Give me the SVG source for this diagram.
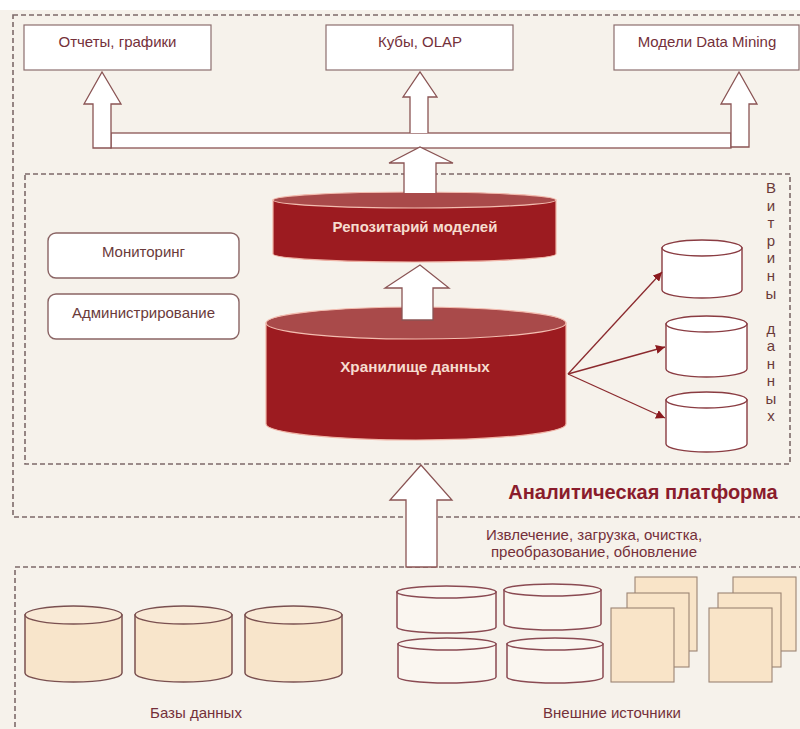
<svg xmlns="http://www.w3.org/2000/svg" width="800" height="729" viewBox="0 0 800 729">
  <defs>
    <style>
      .frame { fill: none; stroke: #7d6a6a; stroke-width: 1.6; stroke-dasharray: 5 3; }
      .box { fill: #ffffff; stroke: #8c6e6e; stroke-width: 1.2; }
      .rbox { fill: #ffffff; stroke: #8a6464; stroke-width: 1.4; }
      .lbl { font-family: "Liberation Sans", Arial, sans-serif; font-size: 15px; fill: #74303a; text-anchor: middle; }
      .side { font-family: "Liberation Sans", Arial, sans-serif; font-size: 15px; fill: #6a3a3a; text-anchor: middle; }
      .dark { font-family: "Liberation Sans", Arial, sans-serif; font-weight: bold; fill: #f6dccf; text-anchor: middle; }
      .blk { fill: #ffffff; stroke: #8a5454; stroke-width: 1.3; }
      .redbody { fill: #9c1b20; stroke: #f0b4a6; stroke-width: 1.2; }
      .redtop { fill: #a94a4a; stroke: #f3bdb0; stroke-width: 1.2; }
      .mart { fill: #ffffff; stroke: #8a3c42; stroke-width: 1.4; }
      .db { fill: #f8e5cb; stroke: #7a5050; stroke-width: 1.5; }
      .dbtop { fill: #f9ead6; stroke: #7a5050; stroke-width: 1.5; }
      .ext { fill: #faf6f0; stroke: #8a4a52; stroke-width: 1.5; }
      .doc { fill: #f9e4c8; stroke: #9c8474; stroke-width: 1.1; }
      .link { stroke: #8b2a2e; stroke-width: 1.3; fill: none; marker-end: url(#tri); }
    </style>
    <marker id="tri" viewBox="0 0 10 10" refX="10" refY="5" markerWidth="9" markerHeight="9" markerUnits="userSpaceOnUse" orient="auto">
      <path d="M0,0 L10,5 L0,10 Z" fill="#8b1a1e"/>
    </marker>
  </defs>

  <!-- page -->
  <rect x="0" y="0" width="800" height="729" fill="#f6f2eb"/>
  <rect x="0" y="0" width="800" height="10" fill="#ffffff"/>

  <!-- dashed frames -->
  <g id="frames">
    <rect class="frame" x="13" y="15" width="800" height="502"/>
    <rect class="frame" x="25" y="174" width="765" height="290"/>
    <rect class="frame" x="15" y="567" width="800" height="200"/>
  </g>

  <!-- output boxes -->
  <g id="reports">
    <rect class="box" x="24" y="25" width="187" height="45"/>
    <text class="lbl" x="117.5" y="47">Отчеты, графики</text>
  </g>
  <g id="olap">
    <rect class="box" x="326" y="25" width="187" height="45"/>
    <text class="lbl" x="420" y="47">Кубы, OLAP</text>
  </g>
  <g id="mining">
    <rect class="box" x="614" y="25" width="185" height="45"/>
    <text class="lbl" x="707" y="47">Модели Data Mining</text>
  </g>

  <!-- management boxes -->
  <g id="monitoring">
    <rect class="rbox" x="48" y="233" width="191" height="45" rx="8"/>
    <text class="side" x="143.5" y="257">Мониторинг</text>
  </g>
  <g id="admin">
    <rect class="rbox" x="48" y="294" width="191" height="45" rx="8"/>
    <text class="side" x="143.5" y="318">Администрирование</text>
  </g>

  <!-- model repository -->
  <g id="repository">
    <path class="redbody" d="M273,200 L273,254 A141.5,8 0 0 0 556,254 L556,200 Z"/>
    <ellipse class="redtop" cx="414.5" cy="200" rx="141.5" ry="8"/>
    <text class="dark" x="415" y="232" font-size="15">Репозитарий моделей</text>
  </g>

  <!-- data warehouse -->
  <g id="warehouse">
    <path class="redbody" d="M266,323 L266,424 A150,16 0 0 0 566,424 L566,323 Z"/>
    <ellipse class="redtop" cx="416" cy="323" rx="150" ry="16"/>
    <text class="dark" x="415" y="372" font-size="15.3">Хранилище данных</text>
  </g>

  <!-- data marts -->
  <g id="mart1">
    <path class="mart" d="M662,248 L662,290 A40,8 0 0 0 742,290 L742,248 Z"/>
    <ellipse class="mart" cx="702" cy="248" rx="40" ry="8"/>
  </g>
  <g id="mart2">
    <path class="mart" d="M666,324 L666,369 A40.5,8 0 0 0 747,369 L747,324 Z"/>
    <ellipse class="mart" cx="706.5" cy="324" rx="40.5" ry="8"/>
  </g>
  <g id="mart3">
    <path class="mart" d="M666,400 L666,444 A40.5,8 0 0 0 747,444 L747,400 Z"/>
    <ellipse class="mart" cx="706.5" cy="400" rx="40.5" ry="8"/>
  </g>
  <g id="marts-label">
    <text class="side" x="771" y="193" font-size="16">В</text>
    <text class="side" x="771" y="211">и</text>
    <text class="side" x="771" y="228">т</text>
    <text class="side" x="771" y="246">р</text>
    <text class="side" x="771" y="263">и</text>
    <text class="side" x="771" y="281">н</text>
    <text class="side" x="771" y="299">ы</text>
    <text class="side" x="771" y="334">д</text>
    <text class="side" x="771" y="351">а</text>
    <text class="side" x="771" y="369">н</text>
    <text class="side" x="771" y="386">н</text>
    <text class="side" x="771" y="404">ы</text>
    <text class="side" x="771" y="421">х</text>
  </g>

  <!-- platform caption and ETL note -->
  <g id="platform-label">
    <text x="643" y="499" font-family="'Liberation Sans', Arial, sans-serif" font-size="20" font-weight="bold" fill="#8a1c2c" text-anchor="middle">Аналитическая платформа</text>
  </g>
  <g id="etl-label">
    <text class="lbl" x="594" y="540" font-size="14.6">Извлечение, загрузка, очистка,</text>
    <text class="lbl" x="594" y="557" font-size="14.6">преобразование, обновление</text>
  </g>

  <!-- source databases -->
  <g id="databases">
    <path class="db" d="M25,615 L25,673 A48.5,9 0 0 0 122,673 L122,615 Z"/>
    <ellipse class="dbtop" cx="73.5" cy="615" rx="48.5" ry="9"/>
    <path class="db" d="M135,615 L135,673 A48.5,9 0 0 0 232,673 L232,615 Z"/>
    <ellipse class="dbtop" cx="183.5" cy="615" rx="48.5" ry="9"/>
    <path class="db" d="M245,615 L245,673 A48.5,9 0 0 0 342,673 L342,615 Z"/>
    <ellipse class="dbtop" cx="293.5" cy="615" rx="48.5" ry="9"/>
    <text class="lbl" x="196" y="718" font-size="15.5">Базы данных</text>
  </g>

  <!-- external sources -->
  <g id="external">
    <path class="ext" d="M397,592 L397,627 A49.5,6 0 0 0 496,627 L496,592 Z"/>
    <ellipse class="ext" cx="446.5" cy="592" rx="49.5" ry="6"/>
    <path class="ext" d="M504,590 L504,624 A48.5,6 0 0 0 601,624 L601,590 Z"/>
    <ellipse class="ext" cx="552.5" cy="590" rx="48.5" ry="6"/>
    <path class="ext" d="M398,644 L398,677 A49,6 0 0 0 496,677 L496,644 Z"/>
    <ellipse class="ext" cx="447" cy="644" rx="49" ry="6"/>
    <path class="ext" d="M507,644 L507,677 A48,6 0 0 0 603,677 L603,644 Z"/>
    <ellipse class="ext" cx="555" cy="644" rx="48" ry="6"/>

    <rect class="doc" x="635" y="577" width="62" height="74"/>
    <rect class="doc" x="627" y="593" width="62" height="74"/>
    <rect class="doc" x="611" y="608" width="63" height="74"/>
    <rect class="doc" x="733" y="577" width="63" height="74"/>
    <rect class="doc" x="718" y="593" width="63" height="74"/>
    <rect class="doc" x="709" y="608" width="63" height="74"/>

    <text class="lbl" x="612" y="718" font-size="15.3">Внешние источники</text>
  </g>

  <!-- connectors -->
  <g id="connectors">
    <!-- distribution bus to the output boxes -->
    <rect class="blk" x="111" y="133" width="620" height="15"/>
    <path class="blk" d="M93,148 L93,104 L84,104 L102,72 L121,104 L111,104 L111,148 Z"/>
    <path class="blk" d="M410,133 L410,97 L403,97 L420,72 L437,97 L428,97 L428,133"/>
    <path class="blk" d="M731,147 L731,104 L721,104 L739,72 L757,104 L749,104 L749,147 Z"/>
    <!-- repository to bus -->
    <path class="blk" d="M404,193 L404,163 L389,163 L420,147 L453,163 L436,163 L436,193"/>
    <!-- warehouse to repository -->
    <path class="blk" d="M402,320 L402,288 L385,288 L420,265 L449,288 L433,288 L433,320 Z"/>
    <!-- ETL into the platform -->
    <path class="blk" d="M406,567 L406,500 L390,500 L421,465 L452,500 L437,500 L437,567 Z"/>
    <!-- warehouse to data marts -->
    <line class="link" x1="568" y1="374" x2="662" y2="272"/>
    <line class="link" x1="568" y1="374" x2="665" y2="347"/>
    <line class="link" x1="568" y1="374" x2="665" y2="418"/>
  </g>
</svg>
